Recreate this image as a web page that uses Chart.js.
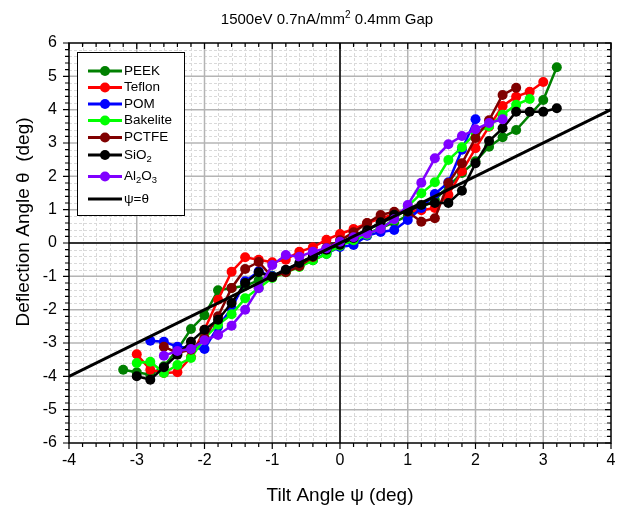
<!DOCTYPE html>
<html>
<head>
<meta charset="utf-8">
<script src="https://cdn.jsdelivr.net/npm/chart.js@4.4.0/dist/chart.umd.min.js"></script>
<style>
  html, body { margin: 0; padding: 0; background: #fff; }
</style>
</head>
<body>
<canvas id="deflectionChart" width="620" height="513"></canvas>
<script>
// data (tilt angle psi -> deflection angle theta, deg)
const peekX = [-3.2, -3.0, -2.8, -2.6, -2.4, -2.2, -2.0, -1.8, -1.6, -1.4, -1.2, -1.0, -0.8, -0.6, -0.4, -0.2, 0, 0.2, 0.4, 0.6, 0.8, 1.0, 1.2, 1.4, 1.6, 1.8, 2.0, 2.2, 2.4, 2.6, 3.0, 3.2];
const peekY = [-3.8, -3.88, -3.95, -3.7, -3.2, -2.58, -2.17, -1.42, -1.35, -1.28, -1.12, -0.98, -0.86, -0.7, -0.52, -0.32, -0.08, 0.12, 0.28, 0.45, 0.62, 0.82, 1.05, 1.3, 1.7, 2.1, 2.45, 2.89, 3.17, 3.39, 4.29, 5.27];

const teflonX = [-3.0, -2.8, -2.6, -2.4, -2.2, -2.0, -1.8, -1.6, -1.4, -1.2, -1.0, -0.8, -0.6, -0.4, -0.2, 0, 0.2, 0.4, 0.6, 0.8, 1.0, 1.2, 1.4, 1.6, 1.8, 2.0, 2.2, 2.4, 2.6, 2.8, 3.0];
const teflonY = [-3.34, -3.8, -3.9, -3.88, -3.42, -2.6, -1.7, -0.86, -0.43, -0.5, -0.58, -0.5, -0.26, -0.13, 0.1, 0.27, 0.42, 0.59, 0.74, 0.86, 0.95, 0.98, 1.05, 1.45, 2.15, 2.84, 3.49, 4.11, 4.39, 4.54, 4.83];

const pomX = [-2.8, -2.6, -2.4, -2.2, -2.0, -1.8, -1.6, -1.4, -1.2, -1.0, -0.8, -0.6, -0.4, -0.2, 0, 0.2, 0.4, 0.6, 0.8, 1.0, 1.2, 1.4, 1.6, 1.8, 2.0];
const pomY = [-2.93, -2.96, -3.11, -3.15, -3.18, -2.51, -1.96, -1.15, -0.85, -1.0, -0.82, -0.65, -0.5, -0.32, -0.12, -0.06, 0.22, 0.33, 0.39, 0.69, 1.05, 1.47, 1.82, 2.8, 3.71];

const bakeliteX = [-3.0, -2.8, -2.6, -2.4, -2.2, -2.0, -1.8, -1.6, -1.4, -1.2, -1.0, -0.8, -0.6, -0.4, -0.2, 0, 0.2, 0.4, 0.6, 0.8, 1.0, 1.2, 1.4, 1.6, 1.8, 2.0, 2.2, 2.4, 2.6, 2.8];
const bakeliteY = [-3.6, -3.56, -3.9, -3.66, -3.45, -2.85, -2.45, -2.14, -1.66, -1.35, -1.05, -0.88, -0.72, -0.52, -0.33, -0.08, 0.08, 0.25, 0.45, 0.7, 1.1, 1.49, 1.82, 2.49, 2.87, 3.3, 3.5, 3.85, 4.15, 4.32];

const pctfeX = [-2.6, -2.4, -2.2, -2.0, -1.8, -1.6, -1.4, -1.2, -1.0, -0.8, -0.6, -0.4, -0.2, 0, 0.2, 0.4, 0.6, 0.8, 1.0, 1.2, 1.4, 1.6, 1.8, 2.0, 2.2, 2.4, 2.6];
const pctfeY = [-3.11, -3.3, -3.2, -2.85, -2.2, -1.35, -0.78, -0.57, -1.02, -0.88, -0.7, -0.42, -0.15, 0.08, 0.32, 0.6, 0.84, 0.94, 0.94, 0.64, 0.74, 1.8, 2.39, 3.15, 3.68, 4.44, 4.66];

const sio2X = [-3.0, -2.8, -2.6, -2.4, -2.2, -2.0, -1.8, -1.6, -1.4, -1.2, -1.0, -0.8, -0.6, -0.4, -0.2, 0, 0.2, 0.4, 0.6, 0.8, 1.0, 1.2, 1.4, 1.6, 1.8, 2.0, 2.2, 2.4, 2.6, 2.8, 3.0, 3.2];
const sio2Y = [-4.0, -4.1, -3.73, -3.35, -2.96, -2.6, -2.3, -1.8, -1.2, -0.88, -1.02, -0.8, -0.6, -0.4, -0.2, -0.05, 0.15, 0.38, 0.62, 0.85, 0.95, 1.14, 1.2, 1.2, 1.57, 2.39, 3.06, 3.44, 3.94, 3.94, 3.94, 4.04];

const al2o3X = [-2.6, -2.4, -2.2, -2.0, -1.8, -1.6, -1.4, -1.2, -1.0, -0.8, -0.6, -0.4, -0.2, 0, 0.2, 0.4, 0.6, 0.8, 1.0, 1.2, 1.4, 1.6, 1.8, 2.0, 2.2, 2.4];
const al2o3Y = [-3.38, -3.24, -3.18, -2.92, -2.76, -2.48, -2.0, -1.36, -0.66, -0.36, -0.41, -0.26, -0.16, 0.04, 0.17, 0.28, 0.42, 0.71, 1.14, 1.81, 2.54, 2.96, 3.21, 3.41, 3.6, 3.71];

// reference line psi = theta
const refX = [-4, 4];
const refY = [-4, 4];

// "_d" marks a subscript digit
const legendLabels = ['PEEK', 'Teflon', 'POM', 'Bakelite', 'PCTFE', 'SiO_2', 'Al_2O_3', 'ψ=θ'];
const seriesColors = ['#008000', '#ff0000', '#0000ff', '#00ff00', '#800000', '#000000', '#8000ff', '#000000'];

const FONT = '"Liberation Sans", Arial, sans-serif';

function toPoints(xs, ys) {
  return xs.map((v, i) => ({ x: v, y: ys[i] }));
}

function splitRich(label) {
  const parts = [];
  let i = 0;
  while (i < label.length) {
    if (label[i] === '_') { parts.push({ t: label[i + 1], sub: true }); i += 2; }
    else {
      let j = i;
      while (j < label.length && label[j] !== '_') j++;
      parts.push({ t: label.slice(i, j), sub: false });
      i = j;
    }
  }
  return parts;
}

function drawRich(ctx, label, x, y, size) {
  let cx = x;
  splitRich(label).forEach(p => {
    if (p.sub) {
      ctx.font = (size * 0.7) + 'px ' + FONT;
      ctx.fillText(p.t, cx, y + size * 0.3);
    } else {
      ctx.font = size + 'px ' + FONT;
      ctx.fillText(p.t, cx, y);
    }
    cx += ctx.measureText(p.t).width;
  });
}

const decorations = {
  id: 'decorations',
  beforeDatasetsDraw(chart) {
    const { ctx, chartArea: a, scales: { x, y } } = chart;
    ctx.save();
    ctx.lineWidth = 1;
    // minor grid, dashed
    ctx.setLineDash([3, 2]);
    ctx.strokeStyle = '#d9d9d9';
    for (let i = -20; i <= 20; i++) {
      if (i % 5 === 0) continue;
      const px = Math.round(x.getPixelForValue(i / 5)) + 0.5;
      ctx.beginPath(); ctx.moveTo(px, a.top); ctx.lineTo(px, a.bottom); ctx.stroke();
    }
    for (let i = -30; i <= 30; i++) {
      if (i % 5 === 0) continue;
      const py = Math.round(y.getPixelForValue(i / 5)) + 0.5;
      ctx.beginPath(); ctx.moveTo(a.left, py); ctx.lineTo(a.right, py); ctx.stroke();
    }
    // major grid
    ctx.setLineDash([]);
    ctx.strokeStyle = '#b4b4b4';
    ctx.lineWidth = 1.5;
    for (let v = -3; v <= 3; v++) {
      const px = x.getPixelForValue(v);
      ctx.beginPath(); ctx.moveTo(px, a.top); ctx.lineTo(px, a.bottom); ctx.stroke();
    }
    for (let v = -5; v <= 5; v++) {
      const py = y.getPixelForValue(v);
      ctx.beginPath(); ctx.moveTo(a.left, py); ctx.lineTo(a.right, py); ctx.stroke();
    }
    // zero lines
    ctx.strokeStyle = '#000';
    ctx.lineWidth = 1.5;
    const x0 = x.getPixelForValue(0), y0 = y.getPixelForValue(0);
    ctx.beginPath(); ctx.moveTo(x0, a.top); ctx.lineTo(x0, a.bottom); ctx.stroke();
    ctx.beginPath(); ctx.moveTo(a.left, y0); ctx.lineTo(a.right, y0); ctx.stroke();
    ctx.restore();
  },
  afterDraw(chart) {
    const { ctx, chartArea: a, scales: { x, y } } = chart;
    ctx.save();
    // frame
    ctx.strokeStyle = '#000';
    ctx.lineWidth = 1.5;
    ctx.strokeRect(a.left, a.top, a.right - a.left, a.bottom - a.top);
    // tick marks
    ctx.lineWidth = 1.2;
    for (let i = -20; i <= 20; i++) {
      const px = x.getPixelForValue(i / 5);
      const len = i % 5 === 0 ? 6 : 4;
      ctx.beginPath();
      ctx.moveTo(px, a.bottom); ctx.lineTo(px, a.bottom + len);
      ctx.moveTo(px, a.top); ctx.lineTo(px, a.top + len);
      ctx.stroke();
    }
    for (let i = -30; i <= 30; i++) {
      const py = y.getPixelForValue(i / 5);
      const len = i % 5 === 0 ? 6 : 4;
      ctx.beginPath();
      ctx.moveTo(a.left - len, py); ctx.lineTo(a.left, py);
      ctx.moveTo(a.right, py); ctx.lineTo(a.right - len, py);
      ctx.stroke();
    }

    // title with superscript
    ctx.fillStyle = '#000';
    ctx.textBaseline = 'alphabetic';
    ctx.textAlign = 'left';
    const t1 = '1500eV 0.7nA/mm', sup = '2', t2 = ' 0.4mm Gap';
    ctx.font = '15px ' + FONT;
    const w1 = ctx.measureText(t1).width, w3 = ctx.measureText(t2).width;
    ctx.font = '10px ' + FONT;
    const w2 = ctx.measureText(sup).width;
    let tx = 327 - (w1 + w2 + w3) / 2;
    const ty = 24;
    ctx.font = '15px ' + FONT;
    ctx.fillText(t1, tx, ty); tx += w1;
    ctx.font = '10px ' + FONT;
    ctx.fillText(sup, tx, ty - 6); tx += w2;
    ctx.font = '15px ' + FONT;
    ctx.fillText(t2, tx, ty);

    // y axis title
    ctx.save();
    ctx.translate(24, 222);
    ctx.rotate(-Math.PI / 2);
    ctx.textAlign = 'center';
    ctx.textBaseline = 'middle';
    ctx.font = '19px ' + FONT;
    ctx.fillText('Deflection Angle θ  (deg)', 0, 0);
    ctx.restore();

    // legend box
    const bx = 77, by = 52, bw = 107, bh = 163;
    ctx.fillStyle = '#fff';
    ctx.fillRect(bx, by, bw, bh);
    ctx.strokeStyle = '#000';
    ctx.lineWidth = 1;
    ctx.strokeRect(bx + 0.5, by + 0.5, bw, bh);
    const rows = [71, 87.5, 104, 120.5, 137.5, 155, 176.5, 199];
    legendLabels.forEach((lab, i) => {
      const ry = rows[i];
      ctx.strokeStyle = seriesColors[i];
      ctx.lineWidth = 3;
      ctx.beginPath(); ctx.moveTo(88, ry); ctx.lineTo(122, ry); ctx.stroke();
      if (i < 7) {
        ctx.fillStyle = seriesColors[i];
        ctx.beginPath(); ctx.arc(105, ry, 5, 0, Math.PI * 2); ctx.fill();
      }
      ctx.fillStyle = '#000';
      ctx.textAlign = 'left';
      ctx.textBaseline = 'middle';
      drawRich(ctx, lab, 124, ry, 13.5);
    });
    ctx.restore();
  }
};

const seriesX = [peekX, teflonX, pomX, bakeliteX, pctfeX, sio2X, al2o3X];
const seriesY = [peekY, teflonY, pomY, bakeliteY, pctfeY, sio2Y, al2o3Y];
const drawOrder = [7, 6, 5, 4, 3, 2, 1];

const datasets = seriesX.map((xs, i) => ({
  label: legendLabels[i],
  data: toPoints(xs, seriesY[i]),
  showLine: true,
  borderColor: seriesColors[i],
  backgroundColor: seriesColors[i],
  borderWidth: 2.5,
  pointRadius: 5,
  pointBorderWidth: 0,
  order: drawOrder[i]
}));
datasets.push({
  label: legendLabels[7],
  data: toPoints(refX, refY),
  showLine: true,
  borderColor: '#000',
  borderWidth: 3,
  pointRadius: 0,
  order: 0
});

const chart = new Chart(document.getElementById('deflectionChart'), {
  type: 'scatter',
  data: { datasets: datasets },
  options: {
    responsive: false,
    animation: false,
    layout: { padding: { top: 43, right: 9 } },
    plugins: { legend: { display: false }, tooltip: { enabled: false } },
    scales: {
      x: {
        type: 'linear',
        min: -4, max: 4,
        grid: { display: false, drawTicks: false },
        border: { display: false },
        ticks: { stepSize: 1, color: '#000', padding: 8, font: { family: FONT, size: 16 } },
        title: { display: true, text: 'Tilt Angle ψ (deg)', color: '#000', padding: { top: 0, bottom: 6 }, font: { family: FONT, size: 19 } },
        afterFit(scale) { scale.height = 70; scale.paddingLeft = 0; scale.paddingRight = 0; }
      },
      y: {
        type: 'linear',
        min: -6, max: 6,
        grid: { display: false, drawTicks: false },
        border: { display: false },
        ticks: { stepSize: 1, color: '#000', padding: 12, font: { family: FONT, size: 16 } },
        afterFit(scale) { scale.width = 69; scale.paddingTop = 0; scale.paddingBottom = 0; }
      }
    }
  },
  plugins: [decorations]
});
</script>
</body>
</html>
